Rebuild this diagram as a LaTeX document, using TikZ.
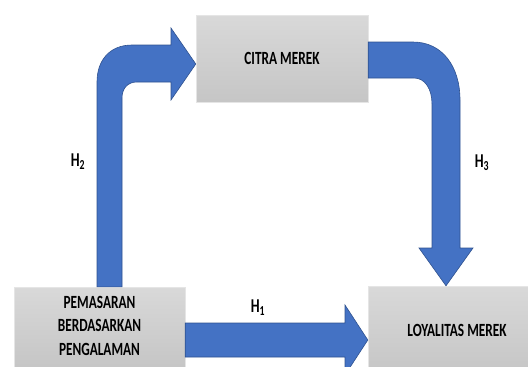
\documentclass[tikz,border=0pt]{standalone}
\usepackage{fontspec}
\setmainfont{Carlito}
\usepackage{graphicx}
\definecolor{arrowblue}{HTML}{4472C4}
\definecolor{arrowedge}{HTML}{2F528F}
\newcommand{\tallt}[1]{\scalebox{1}[1.4]{#1}}

\begin{document}
\begin{tikzpicture}[x=1pt, y=-1pt,
    box/.style={rectangle, draw=gray!20, top color=gray!30, bottom color=gray!45,
      font=\fontsize{13.3}{16.8}\selectfont\bfseries, align=center, inner sep=0pt},
    block/.style={fill=arrowblue, draw=arrowedge, line width=0.6pt},
    hyp/.style={font=\fontsize{14}{16}\selectfont\bfseries}]
  \useasboundingbox (0,0) rectangle (528,367);
  \clip (0,0) rectangle (528,367);

  % variables
  \node[box, minimum width=172, minimum height=87] (citra) at (282,58.5) {\tallt{CITRA MEREK}};
  \node[box, minimum width=171, minimum height=80] (pem) at (99.5,327)
    {\tallt{\begin{tabular}{@{}c@{}}PEMASARAN\\BERDASARKAN\\PENGALAMAN\end{tabular}}};
  \node[box, minimum width=178, minimum height=88] (loy) at (457,330) {\tallt{LOYALITAS MEREK}};

  % H2: pemasaran -> citra
  \draw[block] (pem.north -| 97,0) -- (97,82) .. controls (97,60) and (110,45) .. (132,45)
    -- (171,45) -- (171,28) -- (citra.west |- 0,64) -- (171,100) -- (171,82) -- (137,82)
    .. controls (128,82) and (122,88) .. (122,98) -- (pem.north -| 122,0) -- cycle;
  % H3: citra -> loyalitas
  \draw[block] (citra.east |- 0,42) -- (413,42) .. controls (442,42) and (460,66) .. (460,100)
    -- (460,248) -- (473,248) -- (loy.north -| 446,0) -- (419,248) -- (432,248) -- (432,104)
    .. controls (432,89) and (425,78) .. (414,78) -- (citra.east |- 0,78) -- cycle;
  % H1: pemasaran -> loyalitas
  \draw[block] (pem.east |- 0,323) -- (345,323) -- (345,305) -- (loy.west |- 0,340)
    -- (345,375) -- (345,357) -- (pem.east |- 0,357) -- cycle;

  \node[hyp] (h2) at (78,162) {\tallt{H\textsubscript{2}}};
  \node[hyp] (h3) at (482,163) {\tallt{H\textsubscript{3}}};
  \node[hyp] (h1) at (258,308) {\tallt{H\textsubscript{1}}};
\end{tikzpicture}
\end{document}
